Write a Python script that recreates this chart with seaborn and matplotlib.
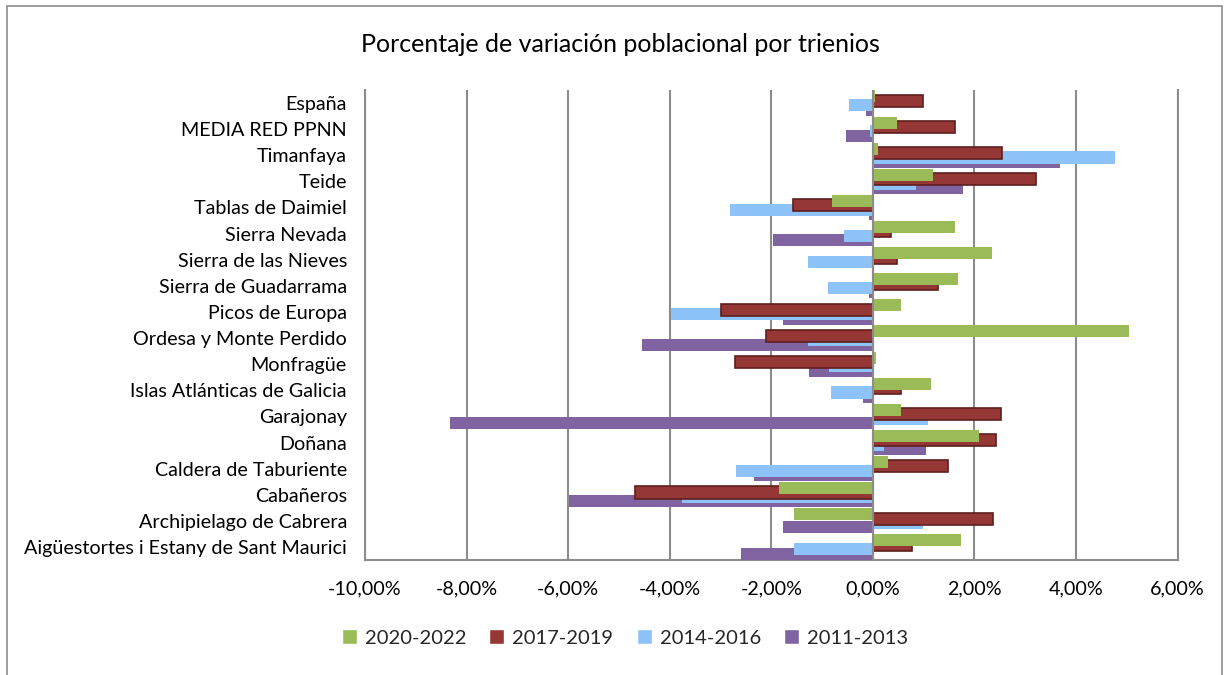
import numpy as np
import pandas as pd
import matplotlib
matplotlib.use("Agg")
import matplotlib.pyplot as plt
import seaborn as sns
from matplotlib.ticker import FuncFormatter, MultipleLocator
from matplotlib.patches import Rectangle

parques = ["España", "MEDIA RED PPNN", "Timanfaya", "Teide", "Tablas de Daimiel",
           "Sierra Nevada", "Sierra de las Nieves", "Sierra de Guadarrama",
           "Picos de Europa", "Ordesa y Monte Perdido", "Monfragüe",
           "Islas Atlánticas de Galicia", "Garajonay", "Doñana",
           "Caldera de Taburiente", "Cabañeros", "Archipielago de Cabrera",
           "Aigüestortes i Estany de Sant Maurici"]
periodos = ["2020-2022", "2017-2019", "2014-2016", "2011-2013"]

v2020_2022 = [0.05, 0.47, 0.10, 1.19, -0.80, 1.61, 2.35, 1.68, 0.55, 5.05,
              0.07, 1.15, 0.56, 2.10, 0.29, -1.85, -1.56, 1.73]
v2017_2019 = [0.99, 1.61, 2.55, 3.22, -1.58, 0.36, 0.48, 1.28, -2.98, -2.10,
              -2.72, 0.55, 2.52, 2.43, 1.49, -4.69, 2.36, 0.78]
v2014_2016 = [-0.46, -0.05, 4.77, 0.86, -2.82, -0.56, -1.27, -0.89, -3.98, -1.27,
              -0.87, -0.83, 1.08, 0.23, -2.70, -3.75, 0.98, -1.56]
v2011_2013 = [-0.13, -0.52, 3.68, 1.77, -0.07, -1.97, 0.00, -0.07, -1.76, -4.54,
              -1.25, -0.20, -8.32, 1.04, -2.33, -5.98, -1.76, -2.60]

colores = ["#9BBB59", "#953735", "#8DC3F9", "#8064A2"]

series = [v2020_2022, v2017_2019, v2014_2016, v2011_2013]
df = pd.concat([pd.DataFrame({"Parque": parques, "Periodo": p, "Valor": v})
                for p, v in zip(periodos, series)], ignore_index=True)

sns.set_theme(style="white")
plt.rcParams["font.family"] = ["Lato", "DejaVu Sans"]

fig = plt.figure(figsize=(12.27, 6.75), dpi=100)
ax = fig.add_axes([365 / 1227, 1 - 560 / 675, (1177.5 - 365) / 1227, (560 - 90) / 675])

sns.barplot(data=df, y="Parque", x="Valor", hue="Periodo", hue_order=periodos,
            order=parques, palette=colores, orient="h", width=0.68, dodge=True,
            saturation=1, ax=ax, legend=True, errorbar=None)

bar_h = 0.46
zorders = [6, 5, 4, 3]
for cont, z, col in zip(ax.containers, zorders, colores):
    for p in cont.patches:
        c = p.get_y() + p.get_height() / 2
        p.set_y(c - bar_h / 2)
        p.set_height(bar_h)
        p.set_zorder(z)
        if col == "#953735":
            p.set_edgecolor("#5E1F1E")
            p.set_linewidth(1.2)
        else:
            p.set_edgecolor(col)
            p.set_linewidth(0)

ax.set_xlim(-10, 6)
ax.set_ylim(len(parques) - 0.5, -0.5)
ax.xaxis.set_major_locator(MultipleLocator(2))
ax.xaxis.set_major_formatter(FuncFormatter(lambda x, pos: f"{x:.2f}%".replace(".", ",")))
ax.grid(axis="x", color="#8C8C8C", linewidth=1.5, zorder=0)
ax.set_axisbelow(True)
ax.axvline(0, color="#8C8C8C", linewidth=1.5, zorder=7)
ax.spines["top"].set_visible(False)
for s in ["left", "bottom", "right"]:
    ax.spines[s].set_color("#8C8C8C")
    ax.spines[s].set_linewidth(1.5)
ax.tick_params(axis="both", length=0, labelsize=14.2, colors="black")
ax.tick_params(axis="y", pad=13)
ax.tick_params(axis="x", pad=15)
ax.set_xlabel("")
ax.set_ylabel("")

leg = ax.get_legend()
handles = leg.legend_handles
leg.remove()
fig.legend(handles, periodos, loc="center", bbox_to_anchor=(625 / 1227, 1 - 638 / 675),
           ncol=4, frameon=False, fontsize=14.5, handlelength=0.75, handleheight=0.75,
           columnspacing=1.15, handletextpad=0.4)

fig.text(620 / 1227, 1 - 45 / 675, "Porcentaje de variación poblacional por trienios",
         ha="center", va="center", fontsize=18, color="black")

fig.patches.append(Rectangle((6.5 / 1227, -0.05), (1222 - 6.5) / 1227, 1.05 - 5.5 / 675,
                             transform=fig.transFigure, fill=False,
                             edgecolor="#8C8C8C", linewidth=1.2))

fig.savefig("out.png", dpi=100)
